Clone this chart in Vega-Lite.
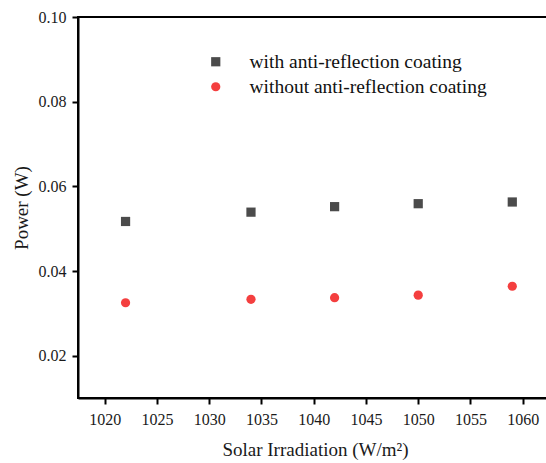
{
  "$schema": "https://vega.github.io/schema/vega-lite/v6.json",
  "width": 474,
  "height": 381,
  "autosize": {"type": "none"},
  "padding": {"left": 78, "top": 17, "right": 0, "bottom": 65},
  "background": "white",
  "config": {
    "font": "Liberation Serif",
    "view": {"stroke": "black", "strokeWidth": 2},
    "style": {"guide-label": {"font": "Liberation Serif"}, "guide-title": {"font": "Liberation Serif"}},
    "axis": {
      "domainColor": "black",
      "domainWidth": 2,
      "tickColor": "black",
      "tickWidth": 2,
      "tickSize": 6,
      "grid": false,
      "labelFont": "Liberation Serif",
      "labelFontSize": 16,
      "labelColor": "#1a1a1a",
      "titleFont": "Liberation Serif",
      "titleFontSize": 19,
      "titleFontWeight": "normal",
      "titleColor": "#1a1a1a"
    }
  },
  "data": {
    "values": [
      {"irr": 1022, "power": 0.0517, "series": "with anti-reflection coating"},
      {"irr": 1034, "power": 0.0539, "series": "with anti-reflection coating"},
      {"irr": 1042, "power": 0.0552, "series": "with anti-reflection coating"},
      {"irr": 1050, "power": 0.0559, "series": "with anti-reflection coating"},
      {"irr": 1059, "power": 0.0563, "series": "with anti-reflection coating"},
      {"irr": 1022, "power": 0.0325, "series": "without anti-reflection coating"},
      {"irr": 1034, "power": 0.0333, "series": "without anti-reflection coating"},
      {"irr": 1042, "power": 0.0337, "series": "without anti-reflection coating"},
      {"irr": 1050, "power": 0.0343, "series": "without anti-reflection coating"},
      {"irr": 1059, "power": 0.0364, "series": "without anti-reflection coating"}
    ]
  },
  "mark": {"type": "point", "filled": true, "opacity": 1, "size": 85},
  "encoding": {
    "x": {
      "field": "irr",
      "type": "quantitative",
      "scale": {"domain": [1017.45, 1062.8], "nice": false, "zero": false},
      "axis": {"values": [1020, 1025, 1030, 1035, 1040, 1045, 1050, 1055, 1060], "format": "d", "labelFont": "Liberation Serif", "title": "Solar Irradiation (W/m²)", "titlePadding": 13, "labelPadding": 7}
    },
    "y": {
      "field": "power",
      "type": "quantitative",
      "scale": {"domain": [0.01, 0.1], "nice": false, "zero": false},
      "axis": {"values": [0.02, 0.04, 0.06, 0.08, 0.1], "format": ".2f", "labelFont": "Liberation Serif", "title": "Power (W)", "titlePadding": 7, "labelPadding": 6}
    },
    "color": {
      "field": "series",
      "type": "nominal",
      "scale": {"domain": ["with anti-reflection coating", "without anti-reflection coating"], "range": ["#4b4b4b", "#f43f3f"]},
      "legend": {
        "title": null,
        "orient": "none",
        "legendX": 128,
        "legendY": 35,
        "labelFont": "Liberation Serif",
        "labelFontSize": 19.5,
        "labelColor": "#111",
        "labelLimit": 0,
        "labelOffset": 24,
        "rowPadding": 4,
        "symbolSize": 85
      }
    },
    "shape": {
      "field": "series",
      "type": "nominal",
      "scale": {"domain": ["with anti-reflection coating", "without anti-reflection coating"], "range": ["square", "circle"]},
      "legend": null
    }
  }
}
